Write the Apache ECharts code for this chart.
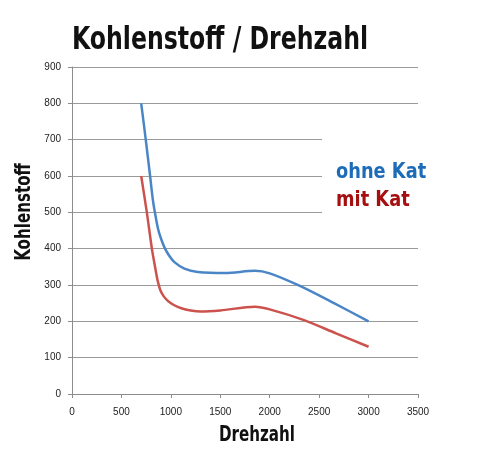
<!DOCTYPE html>
<html>
<head>
<meta charset="utf-8">
<title>Kohlenstoff / Drehzahl</title>
<script src="https://cdn.jsdelivr.net/npm/echarts@6/dist/echarts.min.js"></script>
<style>
  html, body { margin: 0; padding: 0; background: #fff; }
  #chart { width: 482px; height: 455px; }
</style>
</head>
<body>
<div id="chart"></div>
<script>
// values (Drehzahl -> Kohlenstoff)
var ohneKatX = [700, 746, 790, 820, 845, 870, 900, 941, 985, 1036, 1137, 1272, 1550, 1850, 2000, 2300, 2650, 3000];
var ohneKatY = [800, 700, 600, 530, 490, 455, 428, 400, 380, 363, 345, 336, 333, 339, 332, 298, 250, 200];
var mitKatX = [700, 757, 808, 840, 868, 895, 930, 975, 1030, 1106, 1200, 1300, 1500, 1850, 2000, 2340, 2670, 3000];
var mitKatY = [600, 500, 400, 350, 310, 285, 268, 255, 245, 236, 230, 227, 230, 240, 233, 204, 167, 130];

var condensed = "'DejaVu Sans Condensed', 'DejaVu Sans', sans-serif";

function pairs(xs, ys) {
    return xs.map(function (x, i) { return [x, ys[i]]; });
}

var myChart = echarts.init(document.getElementById('chart'));

myChart.setOption({
    animation: false,
    backgroundColor: '#fff',
    grid: { left: 72, right: 64, top: 67, bottom: 61 },
    xAxis: {
        type: 'value',
        min: 0,
        max: 3500,
        interval: 500,
        axisLine: { lineStyle: { color: '#8c8c8c' } },
        axisTick: { show: true, length: 4, lineStyle: { color: '#8c8c8c' } },
        axisLabel: {
            margin: 13, color: '#222', fontSize: 10, fontFamily: 'Liberation Sans',
            formatter: function (v) { return String(v); }
        },
        splitLine: { show: false }
    },
    yAxis: {
        type: 'value',
        min: 0,
        max: 900,
        interval: 100,
        axisLine: { show: true, lineStyle: { color: '#8c8c8c' } },
        axisTick: { show: true, length: 4, lineStyle: { color: '#8c8c8c' } },
        axisLabel: { margin: 11, color: '#222', fontSize: 10, fontFamily: 'Liberation Sans' },
        splitLine: { lineStyle: { color: '#9a9a9a', width: 1 } }
    },
    graphic: [
        { type: 'text', x: 72, y: 25, scaleX: 0.82, z: 11,
          style: { text: 'Kohlenstoff / Drehzahl', fill: '#111', verticalAlign: 'top',
                   font: 'bold 32px ' + condensed } },
        // gap in the grid lines behind the labels
        { type: 'rect', left: 322, top: 128, z: 10, shape: { width: 100, height: 92 }, style: { fill: '#fff' } },
        { type: 'text', x: 336, y: 161, scaleX: 0.92, z: 11,
          style: { text: 'ohne Kat', fill: '#1c6cb8', verticalAlign: 'top', font: 'bold 21.5px ' + condensed } },
        { type: 'text', x: 336, y: 189, scaleX: 0.92, z: 11,
          style: { text: 'mit Kat', fill: '#a50f0f', verticalAlign: 'top', font: 'bold 21.5px ' + condensed } },
        { type: 'text', x: 257, y: 425, scaleX: 0.82, z: 11,
          style: { text: 'Drehzahl', fill: '#111', align: 'center', verticalAlign: 'top',
                   font: 'bold 20.5px ' + condensed } },
        { type: 'text', x: 25, y: 212, rotation: Math.PI / 2, scaleX: 0.8, z: 11,
          style: { text: 'Kohlenstoff', fill: '#111', align: 'center', verticalAlign: 'middle',
                   font: 'bold 21px ' + condensed } }
    ],
    series: [
        {
            name: 'ohne Kat',
            type: 'line',
            data: pairs(ohneKatX, ohneKatY),
            smooth: 0.3,
            showSymbol: false,
            lineStyle: { color: '#4a86c6', width: 2.5 }
        },
        {
            name: 'mit Kat',
            type: 'line',
            data: pairs(mitKatX, mitKatY),
            smooth: 0.3,
            showSymbol: false,
            lineStyle: { color: '#cc524e', width: 2.5 }
        }
    ]
});

window.addEventListener('resize', function () {
    myChart.resize();
});
</script>
</body>
</html>
